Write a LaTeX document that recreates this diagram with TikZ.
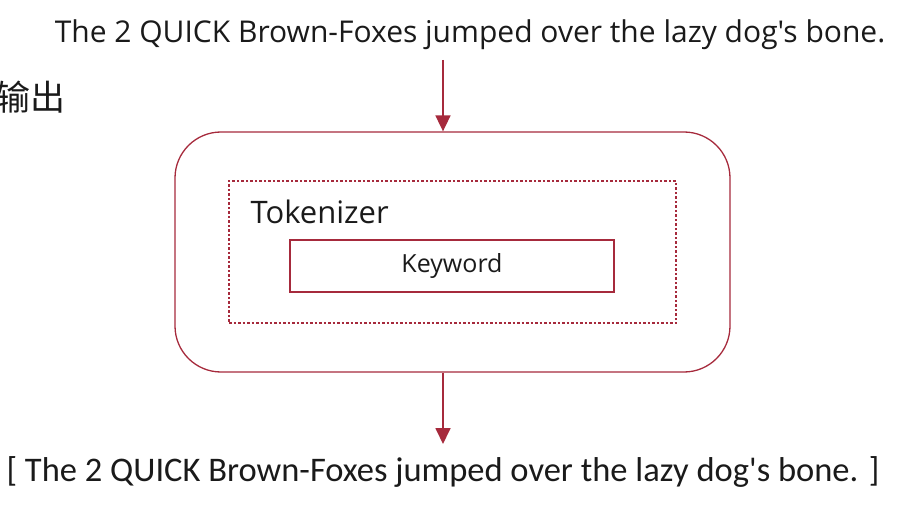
\documentclass[tikz,border=0pt]{standalone}
\usepackage{fontspec}
\newfontfamily\segoe{Open Sans}
\newfontfamily\calib{Carlito}
\newfontfamily\cjk{Noto Sans CJK SC}
\usetikzlibrary{arrows.meta}
\definecolor{boxred}{RGB}{166,42,60}
\definecolor{ink}{RGB}{26,26,26}

\begin{document}
\begin{tikzpicture}[x=1pt,y=-1pt]
\useasboundingbox (0,0) rectangle (914,524);
\tikzset{flow/.style={boxred, line width=1.8pt, -{Triangle[length=16pt, width=15pt]}}}
\node[text=ink, font=\segoe\fontsize{30}{34}\selectfont] (input) at (470,35) {The 2 QUICK Brown-Foxes jumped over the lazy dog's bone.};
\node[text=ink, font=\cjk\fontsize{35}{38}\selectfont, anchor=east, inner sep=0pt] (title) at (66,97) {输出};
\node[draw=boxred, line width=1.3pt, rounded corners=46pt, minimum width=555pt, minimum height=240pt] (analyzer) at (452.5,252) {};
\node[draw=boxred, dashed, dash pattern=on 2.5pt off 2pt, line width=1.2pt, minimum width=447pt, minimum height=142pt] (tokenizer) at (452.5,252) {};
\node[text=ink, font=\segoe\fontsize{31}{34}\selectfont, anchor=west] (toklabel) at (247,212) {Tokenizer};
\node[draw=boxred, line width=1.5pt, minimum width=324pt, minimum height=52pt, text=ink, font=\segoe\fontsize{25}{28}\selectfont] (keyword) at (452,266) {Keyword};
\node[text=ink, font=\calib\fontsize{34.5}{38}\selectfont] (output) at (443,472) {[ The 2 QUICK Brown-Foxes jumped over the lazy dog's bone. ]};
\coordinate (in) at (443,60);
\coordinate (out) at (443,444);
\draw[flow] (in) -- (in |- analyzer.north);
\draw[flow] (out |- analyzer.south) -- (out);
\end{tikzpicture}
\end{document}
